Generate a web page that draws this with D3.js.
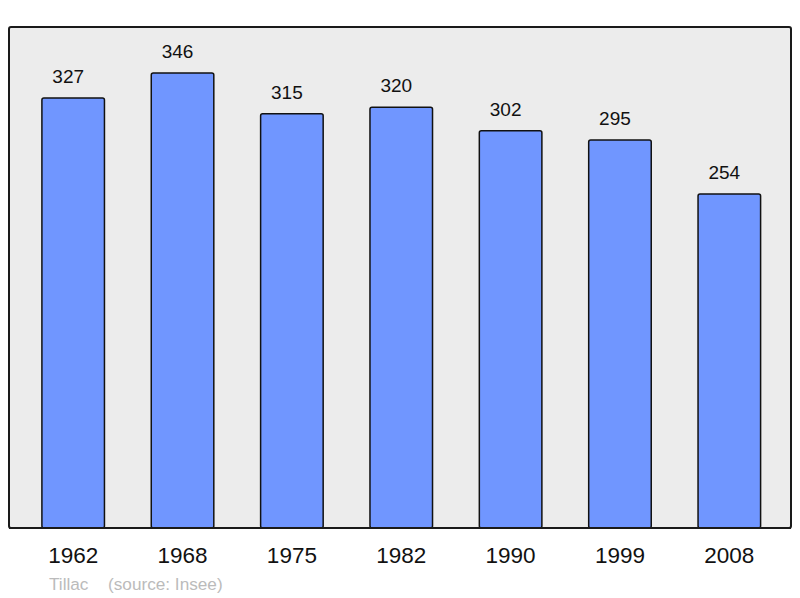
<!DOCTYPE html>
<html><head><meta charset="utf-8">
<script src="https://cdn.jsdelivr.net/npm/d3@7"></script>
<style>body{margin:0;background:#fff}svg{display:block}</style>
</head><body>
<script>
const years = ["1962","1968","1975","1982","1990","1999","2008"];
const population = [327,346,315,320,302,295,254];
const commune = "Tillac";
const sourceText = "(source: Insee)";

const W = 800, H = 598;
const svg = d3.select("body").append("svg").attr("width", W).attr("height", H);
const font = "'Liberation Sans', Arial, sans-serif";

svg.append("rect").attr("x", 9).attr("y", 27).attr("width", 782).attr("height", 501)
  .attr("rx", 2).attr("fill", "#ececec").attr("stroke", "#1a1a1a").attr("stroke-width", 2);

const x = d3.scaleBand().domain(years).range([18.5, 784]).paddingInner(0.428).paddingOuter(0.214);
const y = d3.scaleLinear().domain([0, 346]).range([528, 73]);

svg.selectAll("rect.bar").data(population).join("rect").attr("class", "bar")
  .attr("x", (d, i) => x(years[i])).attr("width", x.bandwidth())
  .attr("y", d => y(d)).attr("height", d => y(0) - y(d))
  .attr("rx", 2).attr("fill", "#7096ff").attr("stroke", "#111").attr("stroke-width", 1.5);

svg.selectAll("text.val").data(population).join("text").attr("class", "val")
  .attr("x", (d, i) => x(years[i]) + x.bandwidth() / 2 - 5).attr("y", d => y(d) - 15)
  .attr("text-anchor", "middle").attr("font-family", font).attr("font-size", 19)
  .attr("fill", "#111").text(d => d);

// bottom frame edge redrawn over bars
svg.append("line").attr("x1", 9).attr("x2", 791).attr("y1", 528).attr("y2", 528)
  .attr("stroke", "#1a1a1a").attr("stroke-width", 2);

const xAxis = d3.axisBottom(x).tickSize(0).tickPadding(0);
const ax = svg.append("g").attr("transform", "translate(0,563)").call(xAxis);
ax.select(".domain").remove();
ax.selectAll("text").attr("font-family", font).attr("font-size", 22.5).attr("fill", "#111").attr("dy", 0);

svg.append("text").attr("x", 49).attr("y", 590).attr("font-family", font).attr("font-size", 17.2)
  .attr("fill", "#bbbbbb").text(commune);
svg.append("text").attr("x", 108).attr("y", 590).attr("font-family", font).attr("font-size", 17.2)
  .attr("fill", "#bbbbbb").text(sourceText);
</script>
</body></html>
